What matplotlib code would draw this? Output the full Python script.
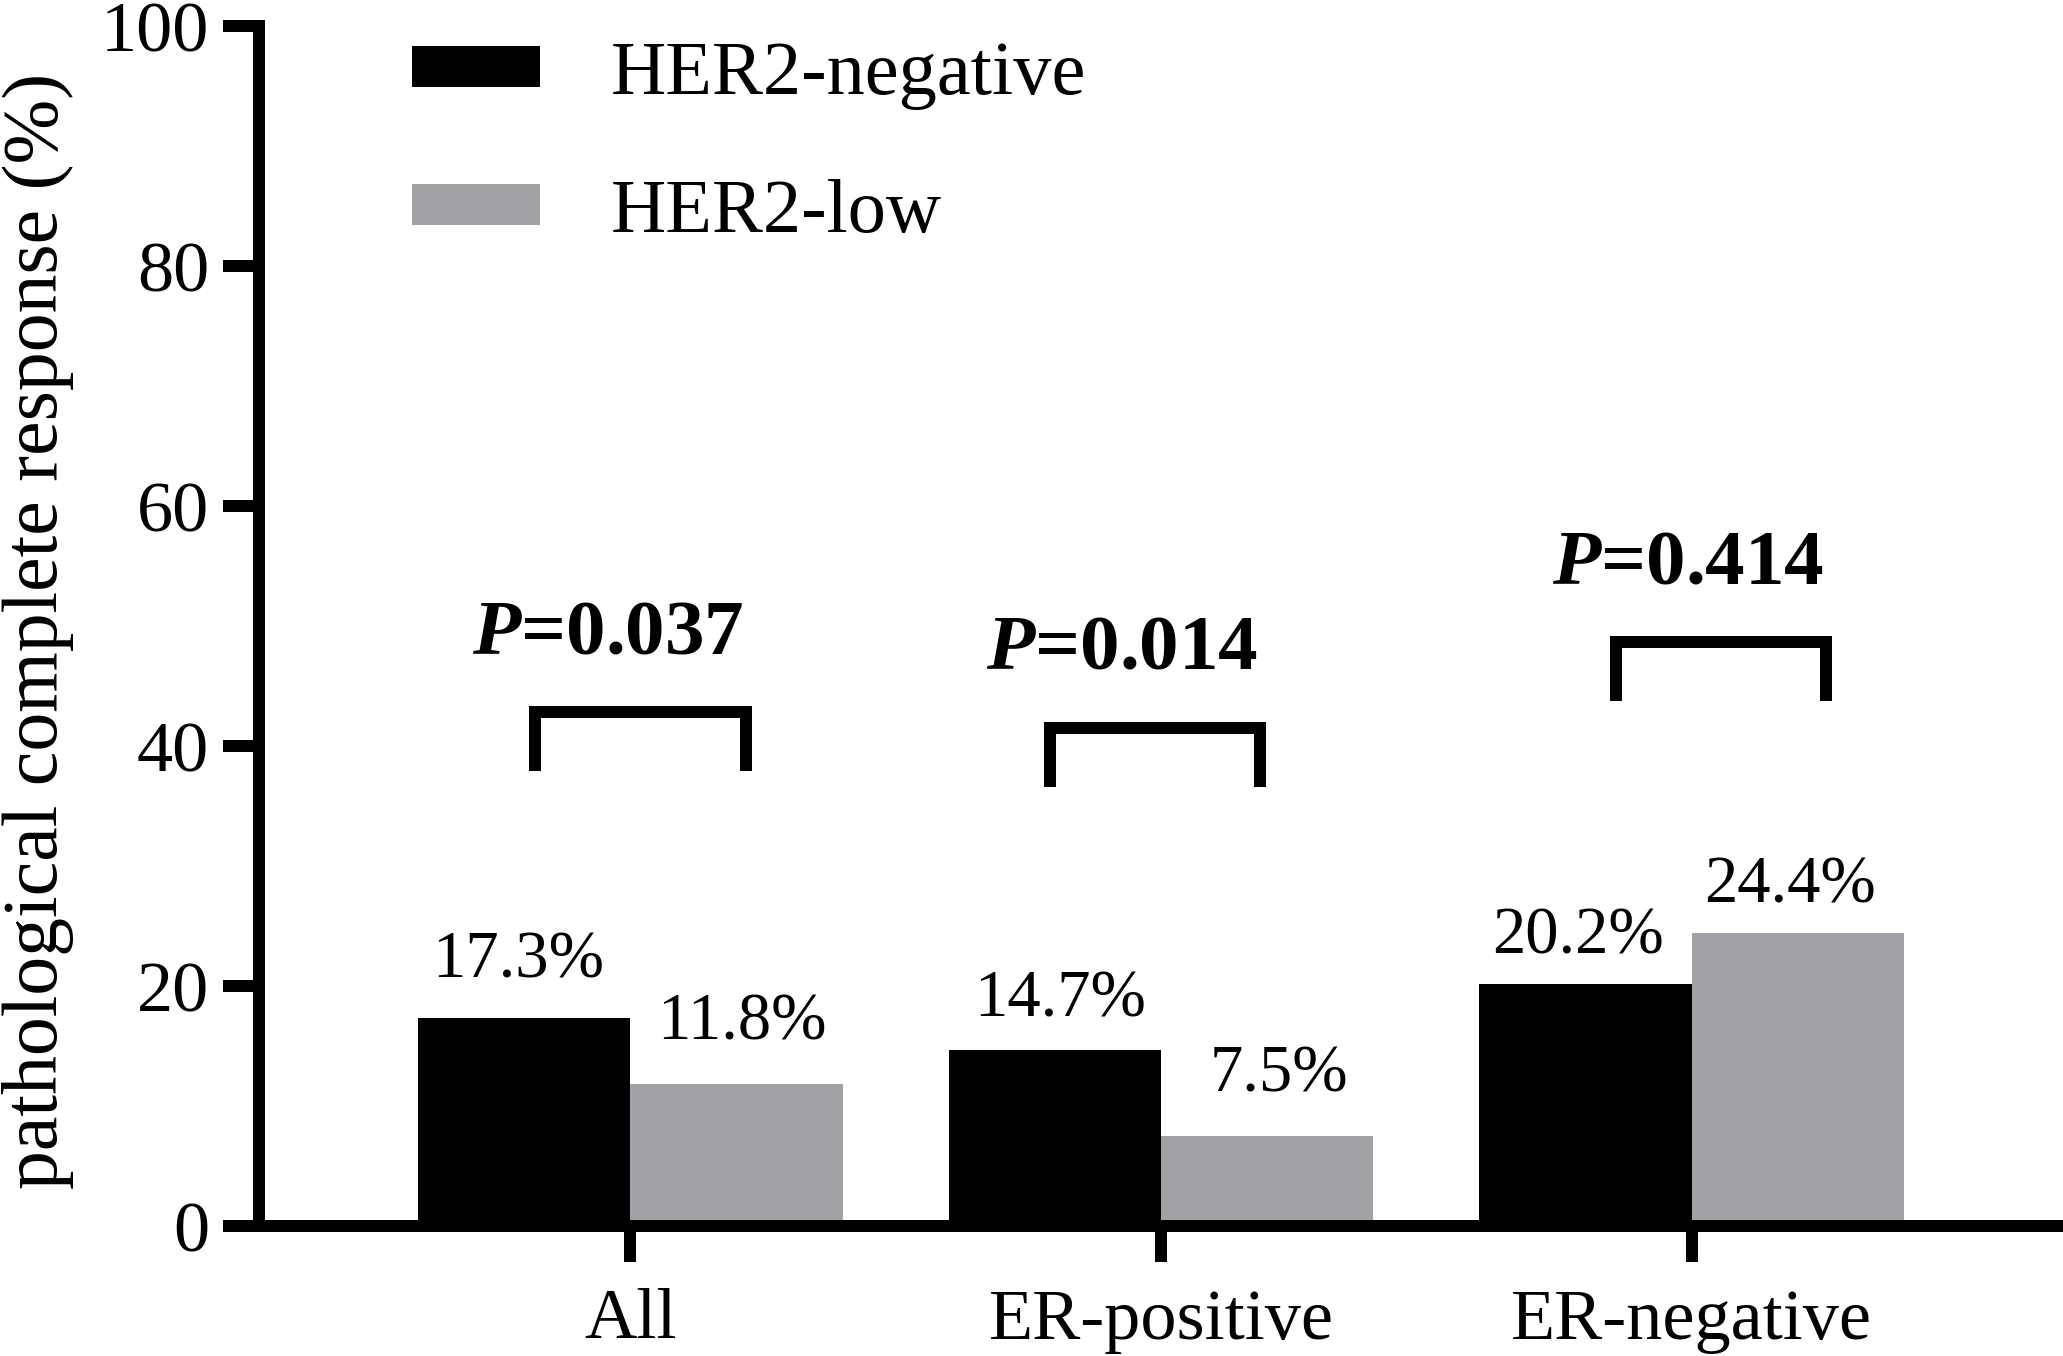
import numpy as np
import matplotlib.pyplot as plt

plt.rcParams['font.family'] = ['Liberation Serif', 'DejaVu Serif']
plt.rcParams['mathtext.fontset'] = 'custom'
plt.rcParams['mathtext.rm'] = 'Liberation Serif:bold'
plt.rcParams['mathtext.bf'] = 'Liberation Serif:bold'
plt.rcParams['mathtext.bfit'] = 'Liberation Serif:italic:bold'

# data
groups = ['All', 'ER-positive', 'ER-negative']
series_names = ['HER2-negative', 'HER2-low']
her2_negative = [17.3, 14.7, 20.2]
her2_low = [11.8, 7.5, 24.4]
p_values = ['0.037', '0.014', '0.414']

# annotation layout (offsets)
lab_dx_neg = [-0.011, 0.009, -0.015]
lab_dx_low = [0.011, 0.023, -0.015]
lab_dy_neg = [3.37, 2.72, 2.55]
lab_dy_low = [3.70, 3.67, 2.52]
br_left = [-0.179, -0.209, -0.143]
br_right = [0.217, 0.187, 0.253]
br_top = [42.83, 41.5, 48.67]
br_drop = 4.9
p_dx = [-0.042, -0.074, -0.006]
p_base = [47.75, 46.42, 53.58]

BLACK = '#000000'
GRAY = '#a2a1a6'
LW = 8.64
width = 0.4

W, H = 2063, 1356
fig = plt.figure(figsize=(W / 100, H / 100), dpi=100)
ax = fig.add_axes([259 / W, 130 / H, 1 - 259 / W, 1200 / H])

x = np.arange(len(groups))
b1 = ax.bar(x - width / 2, her2_negative, width, color=BLACK, label=series_names[0])
b2 = ax.bar(x + width / 2, her2_low, width, color=GRAY, label=series_names[1])

# value labels
for i in range(len(groups)):
    ax.text(x[i] - width / 2 + lab_dx_neg[i], her2_negative[i] + lab_dy_neg[i],
            f"{her2_negative[i]:.1f}%", ha='center', va='baseline', fontsize=48)
    ax.text(x[i] + width / 2 + lab_dx_low[i], her2_low[i] + lab_dy_low[i],
            f"{her2_low[i]:.1f}%", ha='center', va='baseline', fontsize=48)

# significance brackets
for i in range(len(groups)):
    xl, xr = x[i] + br_left[i], x[i] + br_right[i]
    yt = br_top[i]
    ax.plot([xl, xl, xr, xr], [yt - br_drop, yt, yt, yt - br_drop], color=BLACK,
            lw=LW, solid_joinstyle='miter', solid_capstyle='butt', clip_on=False)
    ax.text(x[i] + p_dx[i], p_base[i], r'$\mathbfit{P}$=' + p_values[i],
            ha='center', va='baseline', fontsize=57, fontweight='bold')

ax.set_xlim(-0.7, 2.7)
ax.set_ylim(0, 100)
ax.set_yticks(range(0, 101, 20))
ax.set_xticks(x)
ax.set_xticklabels(groups)

for side in ['top', 'right']:
    ax.spines[side].set_visible(False)
for side in ['left', 'bottom']:
    ax.spines[side].set_linewidth(LW)

ax.tick_params(axis='both', direction='out', length=26, width=LW, color=BLACK, labelsize=52)
ax.tick_params(axis='y', pad=10)
ax.tick_params(axis='x', pad=19)

ax.set_ylabel('pathological complete response (%)', fontsize=56)
ax.yaxis.set_label_coords(-0.1025, 0.496)

ax.legend(handles=[b1, b2], loc='upper left', bbox_to_anchor=(0.0848, 0.9875),
          frameon=False, fontsize=55, handlelength=1.675, handleheight=0.445,
          handletextpad=0.93, labelspacing=0.9, borderpad=0, borderaxespad=0)

fig.savefig('out.png', dpi=100)
